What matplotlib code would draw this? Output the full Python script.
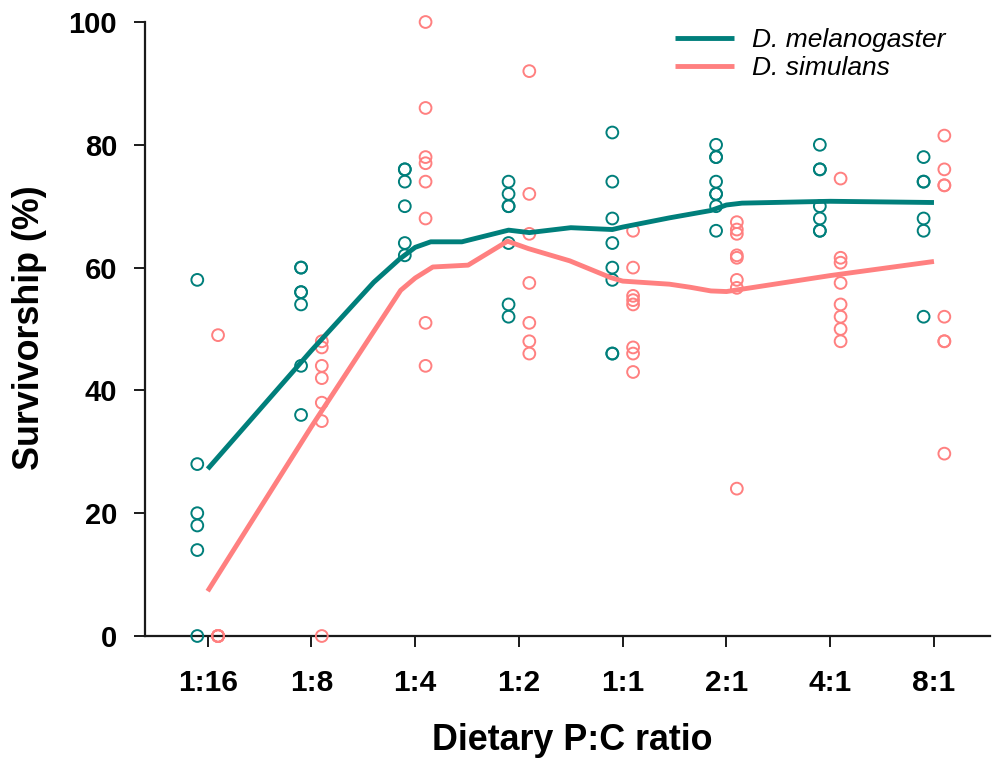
import matplotlib
matplotlib.use("Agg")
import matplotlib.pyplot as plt
import numpy as np

plt.rcParams['font.family'] = ['Liberation Sans', 'DejaVu Sans']

categories = ["1:16", "1:8", "1:4", "1:2", "1:1", "2:1", "4:1", "8:1"]

mel_points = [
    [58, 28, 20, 18, 14, 0],
    [60, 60, 56, 56, 54, 44, 36],
    [76, 76, 74, 70, 64, 62],
    [74, 72, 70, 70, 64, 54, 52],
    [82, 74, 68, 64, 60, 58, 46, 46],
    [80, 78, 78, 74, 72, 72, 70, 66],
    [80, 76, 76, 70, 68, 66, 66],
    [78, 74, 74, 68, 66, 52],
]
sim_points = [
    [49, 0, 0, 0, 0, 0],
    [48, 47, 44, 42, 38, 35, 0],
    [100, 86, 78, 77, 74, 68, 51, 44],
    [92, 72, 65.5, 57.5, 51, 48, 46],
    [66, 60, 55.4, 54.7, 54, 47, 46, 43],
    [67.4, 66.2, 65.5, 62, 61.6, 58, 56.7, 24],
    [74.5, 61.6, 60.8, 57.5, 54, 52, 50, 48],
    [81.5, 76, 73.4, 73.4, 52, 48, 48, 29.7],
]

# smoothed fit curves (category-index position, survivorship)
mel_fit_x = [0, 1.0, 1.6, 1.85, 2.0, 2.15, 2.45, 2.9, 3.0, 3.1, 3.5, 3.9, 4.0, 4.45, 4.85, 5.0, 5.15, 6.0, 7.0]
mel_fit_y = [27.2, 46.5, 57.6, 61.4, 63.3, 64.2, 64.2, 66.1, 65.9, 65.7, 66.5, 66.2, 66.6, 68.1, 69.3, 70.2, 70.5, 70.8, 70.6]
sim_fit_x = [0, 1.0, 1.86, 2.0, 2.17, 2.51, 2.89, 3.09, 3.49, 3.88, 4.0, 4.45, 4.65, 4.85, 5.0, 6.0, 7.0]
sim_fit_y = [7.3, 34.1, 56.3, 58.3, 60.1, 60.4, 64.3, 63.1, 61.1, 58.4, 57.8, 57.3, 56.8, 56.2, 56.1, 58.7, 61.0]

teal = "#007F7B"
salmon = "#FF8080"

fig = plt.figure(figsize=(9.93, 7.64), dpi=100)
ax = fig.add_axes([145/993, 1 - 636/764, (990-145)/993, 614/764])

for i, vals in enumerate(mel_points):
    ax.scatter([i - 0.1] * len(vals), vals, s=72, facecolors='none', edgecolors=teal,
               linewidths=1.4, clip_on=False, zorder=3)
for i, vals in enumerate(sim_points):
    ax.scatter([i + 0.1] * len(vals), vals, s=72, facecolors='none', edgecolors=salmon,
               linewidths=1.4, clip_on=False, zorder=3)

ax.plot(mel_fit_x, mel_fit_y, color=teal, lw=3.5, solid_capstyle='butt', zorder=4,
        label="D. melanogaster")
ax.plot(sim_fit_x, sim_fit_y, color=salmon, lw=3.5, solid_capstyle='butt', zorder=4,
        label="D. simulans")

ax.set_xlim(-0.604, 7.54)
ax.set_ylim(0, 100)
ax.set_xticks(range(len(categories)))
ax.set_xticklabels(categories)
ax.set_yticks([0, 20, 40, 60, 80, 100])
for s in ['top', 'right']:
    ax.spines[s].set_visible(False)
for s in ['left', 'bottom']:
    ax.spines[s].set_linewidth(1.6)
    ax.spines[s].set_color('#1a1a1a')
ax.tick_params(axis='both', direction='out', length=8, width=1.4, color='#1a1a1a')
ax.tick_params(axis='x', pad=16)
ax.tick_params(axis='y', pad=12)
for lab in ax.get_xticklabels():
    lab.set_fontsize(21.5)
    lab.set_fontweight('bold')
for lab in ax.get_yticklabels():
    lab.set_fontsize(21)
    lab.set_fontweight('bold')

fig.text(572/993, 1 - 741/764, "Dietary P:C ratio", fontsize=25.8, fontweight='bold',
         ha='center', va='center')
fig.text(30/993, 1 - 328/764, "Survivorship (%)", fontsize=25.8, fontweight='bold',
         ha='center', va='center', rotation=90)

leg = ax.legend(loc='upper left', frameon=False, handlelength=2.25, handletextpad=0.68,
                labelspacing=0.15, borderpad=0, borderaxespad=0,
                prop={'style': 'italic', 'size': 19})
leg.set_bbox_to_anchor((675/993, 1 - 28/764), transform=fig.transFigure)

fig.savefig("out.png", dpi=100)
